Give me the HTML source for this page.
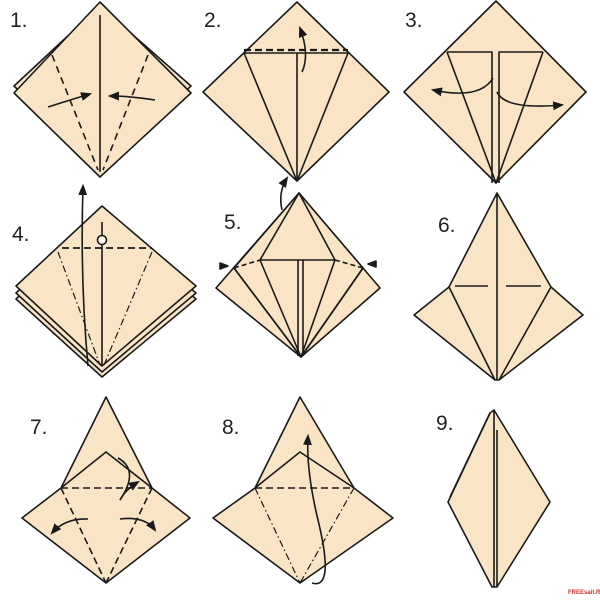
<!DOCTYPE html>
<html><head><meta charset="utf-8"><style>
html,body{margin:0;padding:0;background:#fff;}
svg{display:block;}
text{font-family:"Liberation Sans",sans-serif;font-size:21px;fill:#222;}
</style></head><body>
<svg width="600" height="600" viewBox="0 0 600 600" xmlns="http://www.w3.org/2000/svg">
<defs>
<marker id="ah" viewBox="0 0 10 10" refX="8" refY="5" markerWidth="7" markerHeight="7" orient="auto-start-reverse"><path d="M0,1 L10,5 L0,9 z" fill="#1a1a1a"/></marker>
</defs>
<g stroke="#1a1a1a" stroke-width="1.6" fill="#f9e4c6" stroke-linejoin="round">
<!-- Panel 1 -->
<polygon points="100,6 191,86 100,170 14,86"/>
<polygon points="100,2 191,93 100,177 14,93"/>
<line x1="100" y1="15" x2="100" y2="172"/>
<line x1="52" y1="55" x2="98" y2="170" stroke-dasharray="7,5"/>
<line x1="148" y1="55" x2="103" y2="170" stroke-dasharray="7,5"/>
<path d="M48,107 Q70,100 90,94" fill="none" marker-end="url(#ah)"/>
<path d="M155,100 Q130,96 110,96" fill="none" marker-end="url(#ah)"/>

<!-- Panel 2 -->
<polygon points="297,2 389,92 297,181 203,92"/>
<line x1="244" y1="53" x2="348" y2="53"/>
<line x1="244" y1="50" x2="348" y2="50" stroke-dasharray="7,4" stroke-width="2.2"/>
<line x1="244" y1="53" x2="297" y2="181"/>
<line x1="348" y1="53" x2="297" y2="181"/>
<line x1="297" y1="53" x2="297" y2="181"/>
<path d="M302,72 Q310,55 300,28" fill="none" marker-end="url(#ah)"/>

<!-- Panel 3 -->
<polygon points="496,1 586,92 496,183 404,92"/>
<polyline points="447,52 492,52 492,183" fill="none"/>
<polyline points="543,52 499,52 499,183" fill="none"/>
<line x1="447" y1="52" x2="496" y2="183"/>
<line x1="543" y1="52" x2="496" y2="183"/>
<path d="M493,78 Q480,100 433,90" fill="none" marker-end="url(#ah)"/>
<path d="M497,92 Q505,110 562,105" fill="none" marker-end="url(#ah)"/>

<!-- Panel 4 -->
<polygon points="102,218 196,299 102,377 16,299"/>
<polygon points="102,212 196,293 102,372 16,293"/>
<polygon points="102,206 196,286 102,366 16,286"/>
<line x1="62" y1="248" x2="152" y2="248" stroke-dasharray="7,4" stroke-width="1.8"/>
<line x1="102" y1="222" x2="102" y2="365"/>
<circle cx="102" cy="240" r="4.5" fill="#fff8ec"/>
<line x1="58" y1="252" x2="100" y2="365" stroke-dasharray="7,3,1.5,3" stroke-width="1.2"/>
<line x1="152" y1="252" x2="104" y2="365" stroke-dasharray="7,3,1.5,3" stroke-width="1.2"/>
<path d="M88,366 Q80,280 83,186" fill="none" marker-end="url(#ah)"/>

<!-- Panel 5 -->
<polygon points="299,193 380,288 301,357 216,288"/>
<polygon points="299,193 363,268 301,357 234,268"/>
<polyline points="260,260 299,193 335,260" fill="none"/>
<line x1="260" y1="260" x2="335" y2="260"/>
<line x1="298" y1="260" x2="298" y2="356"/>
<line x1="303" y1="260" x2="303" y2="356"/>
<line x1="260" y1="260" x2="301" y2="357"/>
<line x1="335" y1="260" x2="301" y2="357"/>
<line x1="234" y1="268" x2="301" y2="357"/>
<line x1="363" y1="268" x2="301" y2="357"/>
<line x1="234" y1="268" x2="260" y2="260" stroke-dasharray="5,3"/>
<line x1="335" y1="260" x2="363" y2="268" stroke-dasharray="5,3"/>
<polygon points="220,263 228,266 220,269" fill="#1a1a1a"/>
<polygon points="376,261 368,264 376,267" fill="#1a1a1a"/>
<path d="M282,210 Q278,192 287,178" fill="none" marker-end="url(#ah)"/>

<!-- Panel 6 -->
<polygon points="497,193 551,287 583,315 499,380 495,380 414,315 449,287"/>
<line x1="449" y1="287" x2="495" y2="380"/>
<line x1="551" y1="287" x2="499" y2="380"/>
<line x1="497" y1="193" x2="497" y2="380"/>
<line x1="455" y1="286" x2="488" y2="286"/>
<line x1="506" y1="286" x2="541" y2="286"/>

<!-- Panel 7 -->
<polygon points="106,397 152,488 190,518 106,583 22,518 61,488"/>
<polyline points="61,488 106,452 152,488" fill="none"/>
<line x1="61" y1="488" x2="152" y2="488" stroke-dasharray="7,4"/>
<line x1="61" y1="488" x2="106" y2="583" stroke-dasharray="7,4"/>
<line x1="152" y1="488" x2="106" y2="583" stroke-dasharray="7,4"/>
<path d="M118,458 Q140,470 120,500" fill="none"/>
<path d="M120,500 Q125,490 138,482" fill="none" marker-end="url(#ah)"/>
<path d="M88,519 Q65,518 52,533" fill="none" marker-end="url(#ah)"/>
<path d="M120,519 Q145,516 155,530" fill="none" marker-end="url(#ah)"/>

<!-- Panel 8 -->
<polygon points="300,397 354,488 393,518 300,583 213,518 255,488"/>
<polyline points="255,488 300,452 354,488" fill="none"/>
<line x1="255" y1="488" x2="354" y2="488" stroke-dasharray="7,4"/>
<line x1="255" y1="488" x2="300" y2="583" stroke-dasharray="7,3,1.5,3" stroke-width="1.2"/>
<line x1="354" y1="488" x2="300" y2="583" stroke-dasharray="7,3,1.5,3" stroke-width="1.2"/>
<path d="M312,583 Q335,590 318,520 Q306,470 308,436" fill="none" marker-end="url(#ah)"/>

<!-- Panel 9 -->
<polygon points="494,410 550,502 497,587 492,587 448,502 490,413"/>
<line x1="490" y1="413" x2="450" y2="497"/>
<line x1="494" y1="410" x2="494" y2="587"/>
<line x1="497" y1="430" x2="497" y2="587"/>
</g>
<text x="10" y="27">1.</text>
<text x="204" y="27">2.</text>
<text x="405" y="27">3.</text>
<text x="12" y="241">4.</text>
<text x="224" y="229">5.</text>
<text x="438" y="232">6.</text>
<text x="30" y="434">7.</text>
<text x="222" y="434">8.</text>
<text x="436" y="430">9.</text>
<text x="568" y="594" style="font-size:6px;fill:#c33;font-weight:bold">FREEsait.RU</text>
</svg>
</body></html>
